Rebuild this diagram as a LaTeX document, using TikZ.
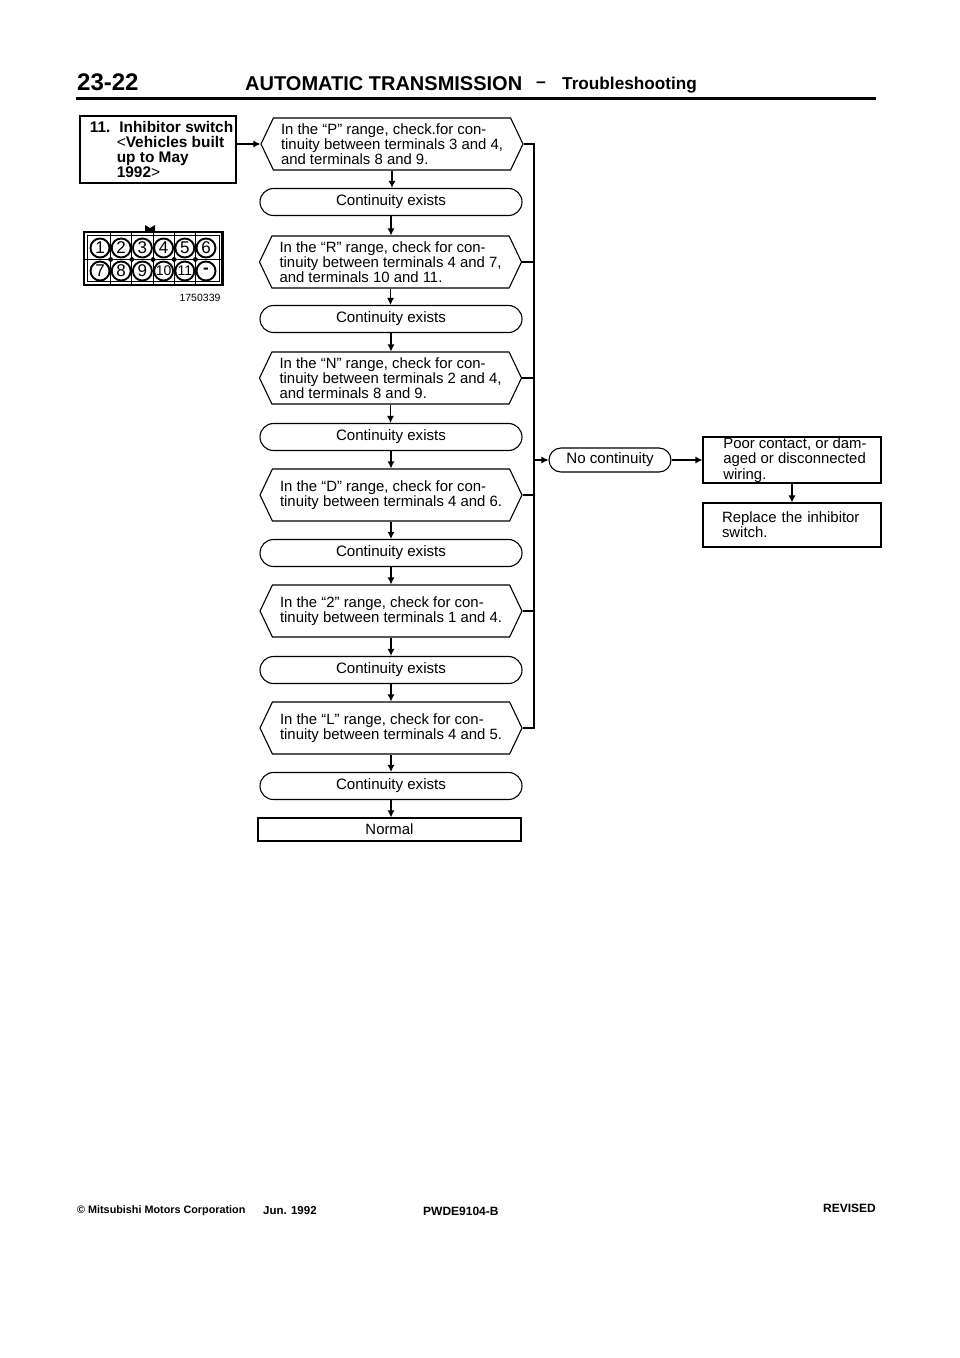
\documentclass[tikz,border=0pt]{standalone}
\usepackage{fontspec}
\setmainfont{Liberation Sans}
\usetikzlibrary{arrows.meta,shapes.misc,shapes.symbols}
\newcommand{\bodysize}{\fontsize{14.9}{15.2}\selectfont}
\newcommand{\termsize}{\fontsize{15.1}{15.2}\selectfont}
\tikzset{
  hexbox/.style = {draw, line width = 1.1pt, signal, signal to = east and west, signal from = nowhere,
    signal pointer angle = 129, minimum width = 262pt, minimum height = 52pt, inner sep = 0pt,
    align = left, font = \bodysize},
  termbox/.style = {draw, line width = 1.1pt, rounded rectangle, minimum width = 262pt,
    minimum height = 27pt, inner sep = 0pt, font = \termsize},
  stepbox/.style = {draw, line width = 1.1pt, rectangle, inner sep = 0pt, font = \bodysize},
  flow/.style = {line width = 1.1pt, -{Latex[length = 7pt, width = 7pt]}},
  plain/.style = {line width = 1.1pt},
  pin/.style = {draw, circle, line width = 1.9pt, fill = white, minimum size = 19pt, inner sep = 0pt,
    font = \fontsize{17}{17}\selectfont},
  headtext/.style = {anchor = west, inner sep = 0pt},
  foottext/.style = {inner sep = 0pt}
}
\begin{document}
\begin{tikzpicture}[x = 1pt, y = -1pt]

      \useasboundingbox (0, 0) rectangle (960, 1358);

      \node[headtext, font = \fontsize{24}{24}\selectfont\bfseries] (pageNo) at (77, 82) {23-22};
      \node[headtext, font = \fontsize{20}{20}\selectfont\bfseries] (chapter) at (245, 84) {AUTOMATIC TRANSMISSION};
      \node[headtext, font = \fontsize{17.5}{18}\selectfont\bfseries] (dash) at (536, 85) {--};
      \node[headtext, font = \fontsize{17.2}{18}\selectfont\bfseries] (section) at (562, 85) {Troubleshooting};
      \draw[line width = 2.4pt] (76, 98.5) -- (876, 98.5);

      \node[stepbox, line width = 1.3pt, minimum width = 156pt, minimum height = 67pt, align = left,
        font = \fontsize{15.4}{15.3}\selectfont\bfseries] (inhibitor) at (158, 149.5)
        {\hspace*{7pt}11.\hspace{9pt}Inhibitor switch\\ \hspace*{34pt}{\mdseries<}Vehicles built\\ \hspace*{34pt}up to May\\ \hspace*{34pt}1992{\mdseries>}};

      \draw[line width = 2.4pt, fill = white] (84, 232) rectangle (222.5, 285);
      \draw[line width = 0.8pt] (87.5, 235.5) rectangle (219, 281.5);
      \fill (145, 231) -- (145, 225) -- (150, 228) -- (155, 225) -- (155, 231) -- cycle;
      \draw[line width = 0.8pt] (85, 259.5) -- (221, 259.5);
      \foreach \gridX in {110.6, 131.8, 153, 174.2, 195.4} {
        \draw[line width = 0.8pt] (\gridX, 233) -- (\gridX, 284);
        \fill (\gridX - 3, 259.5) -- (\gridX, 256.5) -- (\gridX + 3, 259.5) -- (\gridX, 262.5) -- cycle;
      }
      \foreach \num [count = \i] in {1, ..., 6}
        \node[pin] (pin\num) at (78.8 + 21.2 * \i, 248) {\num};
      \foreach \num/\lab [count = \i] in {7/7, 8/8, 9/9, 10/{\fontsize{14}{12}\selectfont 10}, 11/{\fontsize{14}{12}\selectfont 11}, 12/{\bfseries -}}
        \node[pin] (pin\num) at (78.8 + 21.2 * \i, 271) {\lab};
      \node[foottext, font = \fontsize{10.5}{11}\selectfont] (figNo) at (200, 298) {1750339};

      \node[hexbox] (hexP) at (392, 144) {In the ``P'' range, check.for con-\\tinuity between terminals 3 and 4,\\and terminals 8 and 9.};
      \node[termbox] (contP) at (391, 202) {Continuity exists};
      \node[hexbox] (hexR) at (390.5, 262) {In the ``R'' range, check for con-\\tinuity between terminals 4 and 7,\\and terminals 10 and 11.};
      \node[termbox] (contR) at (391, 319) {Continuity exists};
      \node[hexbox] (hexN) at (390.5, 378) {In the ``N'' range, check for con-\\tinuity between terminals 2 and 4,\\and terminals 8 and 9.};
      \node[termbox] (contN) at (391, 437) {Continuity exists};
      \node[hexbox] (hexD) at (391, 495) {In the ``D'' range, check for con-\\tinuity between terminals 4 and 6.};
      \node[termbox] (contD) at (391, 553) {Continuity exists};
      \node[hexbox] (hexTwo) at (391, 611) {In the ``2'' range, check for con-\\tinuity between terminals 1 and 4.};
      \node[termbox] (contTwo) at (391, 670) {Continuity exists};
      \node[hexbox] (hexL) at (391, 728) {In the ``L'' range, check for con-\\tinuity between terminals 4 and 5.};
      \node[termbox] (contL) at (391, 786) {Continuity exists};
      \node[stepbox, minimum width = 263pt, minimum height = 23pt] (normal) at (389.5, 829.5) {Normal};

      \node[termbox, minimum width = 122pt, minimum height = 24pt] (noCont) at (610, 460) {No continuity};
      \node[stepbox, minimum width = 178pt, minimum height = 46pt, align = left] (poor) at (792, 460)
        {\hspace*{6pt}Poor contact, or dam-\\\hspace*{6pt}aged or disconnected\\\hspace*{6pt}wiring.};
      \node[stepbox, minimum width = 178pt, minimum height = 44pt, text width = 140pt, align = left] (replace) at (792, 525)
        {Replace the inhibitor\\switch.};

      \coordinate (busTop) at (534, 144);
      \coordinate (busEnd) at (534, 728);
      \draw[plain] (hexP.east) -- (busTop) -- (busEnd) -- (hexL.east);
      \foreach \hex in {hexR, hexN, hexD, hexTwo}
        \draw[plain] (\hex.east) -- (\hex.east -| busTop);

      \draw[flow] (inhibitor.east |- hexP.west) -- (hexP.west);
      \draw[flow] (hexP.south) -- (contP.north -| hexP.south);
      \draw[flow] (contP.south) -- (hexR.north -| contP.south);
      \draw[flow] (hexR.south) -- (contR.north -| hexR.south);
      \draw[flow] (contR.south) -- (hexN.north -| contR.south);
      \draw[flow] (hexN.south) -- (contN.north -| hexN.south);
      \draw[flow] (contN.south) -- (hexD.north);
      \draw[flow] (hexD.south) -- (contD.north);
      \draw[flow] (contD.south) -- (hexTwo.north);
      \draw[flow] (hexTwo.south) -- (contTwo.north);
      \draw[flow] (contTwo.south) -- (hexL.north);
      \draw[flow] (hexL.south) -- (contL.north);
      \draw[flow] (contL.south) -- (normal.north -| contL.south);
      \draw[flow] (busTop |- noCont.west) -- (noCont.west);
      \draw[flow] (noCont.east) -- (poor.west);
      \draw[flow] (poor.south) -- (replace.north);

      \node[foottext, anchor = west, font = \fontsize{10.8}{11}\selectfont\bfseries] (corp) at (77, 1211) {© Mitsubishi Motors Corporation};
      \node[foottext, anchor = west, font = \fontsize{11.5}{11}\selectfont\bfseries] (date) at (263, 1211) {Jun. 1992};
      \node[foottext, anchor = west, font = \fontsize{12}{11}\selectfont\bfseries] (docNo) at (423, 1211) {PWDE9104-B};
      \node[foottext, anchor = east, font = \fontsize{12}{11}\selectfont\bfseries] (revised) at (876, 1208) {REVISED};

    \end{tikzpicture}
\end{document}
